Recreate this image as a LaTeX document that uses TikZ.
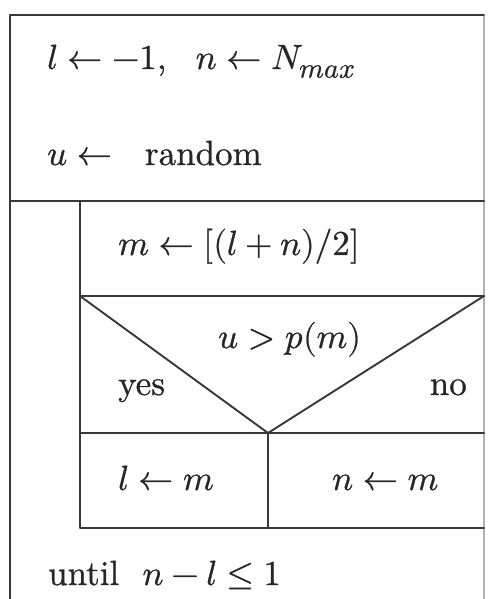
\documentclass[tikz,border=0pt]{standalone}
\usepackage{graphicx}
\usepackage{unicode-math}
\setmainfont{lmroman10-regular.otf}[FakeBold=0.8]
\setmathfont{Latin Modern Math}[FakeBold=0.8]
\tikzset{
  frame/.style={line width=1.9pt, draw=black!78, line cap=round, line join=round},
  faint/.style={line width=1.2pt, draw=black!30},
  lbl/.style={anchor=base west, inner sep=0pt, font=\fontsize{35}{42}\selectfont, text=black!85},
  lble/.style={lbl, anchor=base east},
}
\begin{document}
\begin{tikzpicture}[x=1pt,y=1pt]
\useasboundingbox (0,0) rectangle (487,599);
% key coordinates
\coordinate (TL) at (10,584);
\coordinate (TR) at (484,584);
\coordinate (BL) at (10,0);
\coordinate (BR) at (484,0);
\coordinate (D1L) at (10,398);
\coordinate (D1R) at (484,398);
\coordinate (IL) at (80,398);
\coordinate (MBL) at (80,303);
\coordinate (MBR) at (484,303);
\coordinate (APX) at (268,166);
\coordinate (CBL) at (80,166);
\coordinate (CBR) at (484,166);
\coordinate (IBL) at (80,71);
\coordinate (IBR) at (484,71);
\coordinate (IBM) at (268,71);
% frame
\draw[faint] (TR) -- (BR);
\draw[frame] (BL) -- (TL) -- (TR);
\draw[frame] (D1L) -- (D1R);
\draw[frame] (IL) -- (IBL) -- (IBR);
\draw[frame] (MBL) -- (MBR);
\draw[frame] (MBL) -- (APX) -- (MBR);
\draw[frame] (CBL) -- (CBR);
\draw[frame] (APX) -- (IBM);
% texts
\node[lbl] (init) at (47,530) {$l\leftarrow -1,\ \ n\leftarrow N_{\scalebox{1.15}{$\scriptstyle max$}}$};
\node[lbl] (rand) at (47,434) {$u\leftarrow$\hspace{33pt}random};
\node[lbl] (mid) at (118,344) {$m\leftarrow[(l+n)/2]$};
\node[lbl] (cond) at (218,251) {$u>p(m)$};
\node[lbl] (yes) at (118,204) {yes};
\node[lble] (no) at (467,204) {no};
\node[lbl] (lm) at (118,109) {$l\leftarrow m$};
\node[lbl] (nm) at (332,109) {$n\leftarrow m$};
\node[lbl] (until) at (48,14) {until\ \ $n-l\leq 1$};
\end{tikzpicture}
\end{document}
